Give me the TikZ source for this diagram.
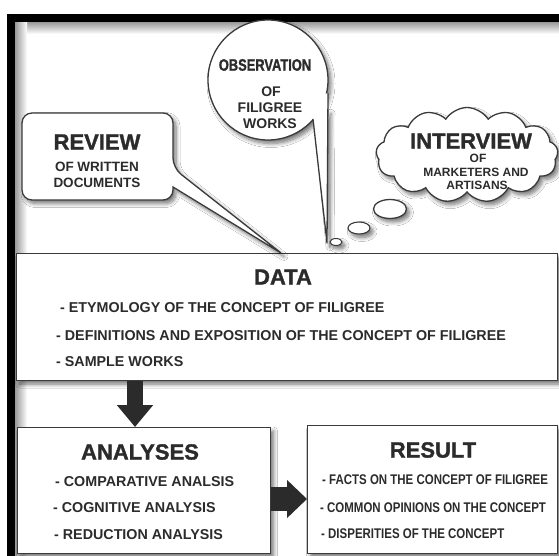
\documentclass[tikz,border=0pt]{standalone}
\usepackage{fontspec}
\setmainfont{Liberation Sans}
\newfontfamily\narrowfont[FakeStretch=0.82]{Liberation Sans}
\newfontfamily\obsfont[FakeStretch=0.78,FakeBold=1.2]{Liberation Sans Bold}
\newfontfamily\heavyfont[FakeBold=1.4]{Liberation Sans Bold}
\usetikzlibrary{shapes.symbols,shapes.geometric,arrows.meta,shadows.blur}

\definecolor{ink}{HTML}{2B2B2B}
\definecolor{edge}{HTML}{3A3A3A}

\tikzset{
  softshadow/.style={blur shadow={shadow xshift=3pt,shadow yshift=-3.5pt,
      shadow blur radius=4pt,shadow blur steps=8,shadow opacity=55}},
  panel/.style={draw=edge,line width=1.3pt,fill=white,softshadow},
  outline/.style={draw=edge,line width=1.3pt},
  title/.style={font=\heavyfont\fontsize{22}{24}\selectfont,text=ink,inner sep=0pt},
  sub/.style={font=\bfseries\fontsize{13.5}{15}\selectfont,text=ink,inner sep=0pt},
  item/.style={font=\bfseries\fontsize{14.3}{16}\selectfont,text=ink,inner sep=0pt,anchor=west},
  nitem/.style={font=\narrowfont\bfseries\fontsize{14}{16}\selectfont,text=ink,inner sep=0pt,anchor=west},
  flow/.style={draw=ink,line width=#1},
}

\begin{document}
\begin{tikzpicture}[x=1pt,y=-1pt]
\useasboundingbox (0,0) rectangle (559,556);
\fill[white] (0,0) rectangle (559,556);

% frame with its inner shading
\shade[top color=black!40,bottom color=white] (15,22) rectangle (559,34);
\shade[left color=black!40,right color=white] (15,22) rectangle (27,556);
\fill[black] (7,14) rectangle (559,22);
\fill[black] (7,14) rectangle (15,556);

% boxes
\node[panel,rectangle,anchor=north west,minimum width=541pt,minimum height=127pt] (data) at (16,253) {};
\node[panel,rectangle,anchor=north west,minimum width=253pt,minimum height=126pt] (analyses) at (17,427) {};
\node[panel,rectangle,anchor=north west,minimum width=250pt,minimum height=128pt] (result) at (307,425) {};

% REVIEW callout pointing at the data box
\coordinate (revtip) at (281,253);
\path[panel] (173,187) [rounded corners=10pt] -- (173,200) -- (22,200) -- (22,113)
   -- (173,113) -- (173,168) [sharp corners] -- (revtip) -- cycle;

% OBSERVATION balloon
\coordinate (obstip) at (327,243);
\fill[white,softshadow] (316,125) -- (obstip) -- (328,110) -- cycle;
\node[circle,panel,minimum size=120pt,inner sep=0pt] (obs) at (268,80) {};
\fill[white] (313,119) -- (obstip) -- (328,93) -- (305,100) -- cycle;
\draw[outline,line join=round] (313,119) -- (obstip) -- (328,93);

% INTERVIEW thought cloud
\node[cloud,panel,cloud puffs=13,cloud puff arc=115,
      minimum width=182pt,minimum height=95pt,inner sep=0pt] (cloud) at (467,155) {};
\node[ellipse,panel,minimum width=33pt,minimum height=19pt,inner sep=0pt] (bub1) at (390,209) {};
\node[ellipse,panel,line width=1.1pt,minimum width=22pt,minimum height=12pt,inner sep=0pt] (bub2) at (359,228) {};
\node[ellipse,panel,line width=1pt,minimum width=12pt,minimum height=7pt,inner sep=0pt] (bub3) at (336,242) {};

% flow arrows
\coordinate (aIn) at (135,427);
\coordinate (rIn) at (307,499);
\draw[flow=16pt,-{Triangle[width=35pt,length=22pt]}] (data.south -| aIn) -- (aIn);
\draw[flow=24pt,-{Triangle[width=37pt,length=20pt]}] (analyses.east |- rIn) -- (rIn);

% texts
\node[title] (tReview) at (97,142) {REVIEW};
\node[sub] (tRev1) at (97,167) {OF WRITTEN};
\node[sub] (tRev2) at (97,183) {DOCUMENTS};

\node[font=\obsfont\fontsize{16.5}{18}\selectfont,text=ink,inner sep=0pt] (tObs) at (265,65) {OBSERVATION};
\node[sub,font=\bfseries\fontsize{14}{16}\selectfont] (tObs1) at (271,92) {OF};
\node[sub,font=\bfseries\fontsize{14}{16}\selectfont] (tObs2) at (270,108) {FILIGREE};
\node[sub,font=\bfseries\fontsize{14}{16}\selectfont] (tObs3) at (270,124) {WORKS};

\node[title,font=\heavyfont\fontsize{22}{24}\selectfont] (tInt) at (471,141) {INTERVIEW};
\node[sub,font=\bfseries\fontsize{12}{14}\selectfont] (tInt1) at (478,158) {OF};
\node[sub,font=\bfseries\fontsize{12}{14}\selectfont] (tInt2) at (476,172) {MARKETERS AND};
\node[sub,font=\bfseries\fontsize{12}{14}\selectfont] (tInt3) at (477,185) {ARTISANS};

\node[title] (tData) at (283,277) {DATA};
\node[item] (d1) at (60,308) {- ETYMOLOGY OF THE CONCEPT OF FILIGREE};
\node[item] (d2) at (56,336) {- DEFINITIONS AND EXPOSITION OF THE CONCEPT OF FILIGREE};
\node[item] (d3) at (56,362) {- SAMPLE WORKS};

\node[title] (tAna) at (140,452) {ANALYSES};
\node[item] (a1) at (55,482) {- COMPARATIVE ANALSIS};
\node[item] (a2) at (53,508) {- COGNITIVE ANALYSIS};
\node[item] (a3) at (54,535) {- REDUCTION ANALYSIS};

\node[title] (tRes) at (433,450) {RESULT};
\node[nitem] (r1) at (322,480) {- FACTS ON THE CONCEPT OF FILIGREE};
\node[nitem] (r2) at (320,508) {- COMMON OPINIONS ON THE CONCEPT};
\node[nitem] (r3) at (321,534) {- DISPERITIES OF THE CONCEPT};
\end{tikzpicture}
\end{document}
